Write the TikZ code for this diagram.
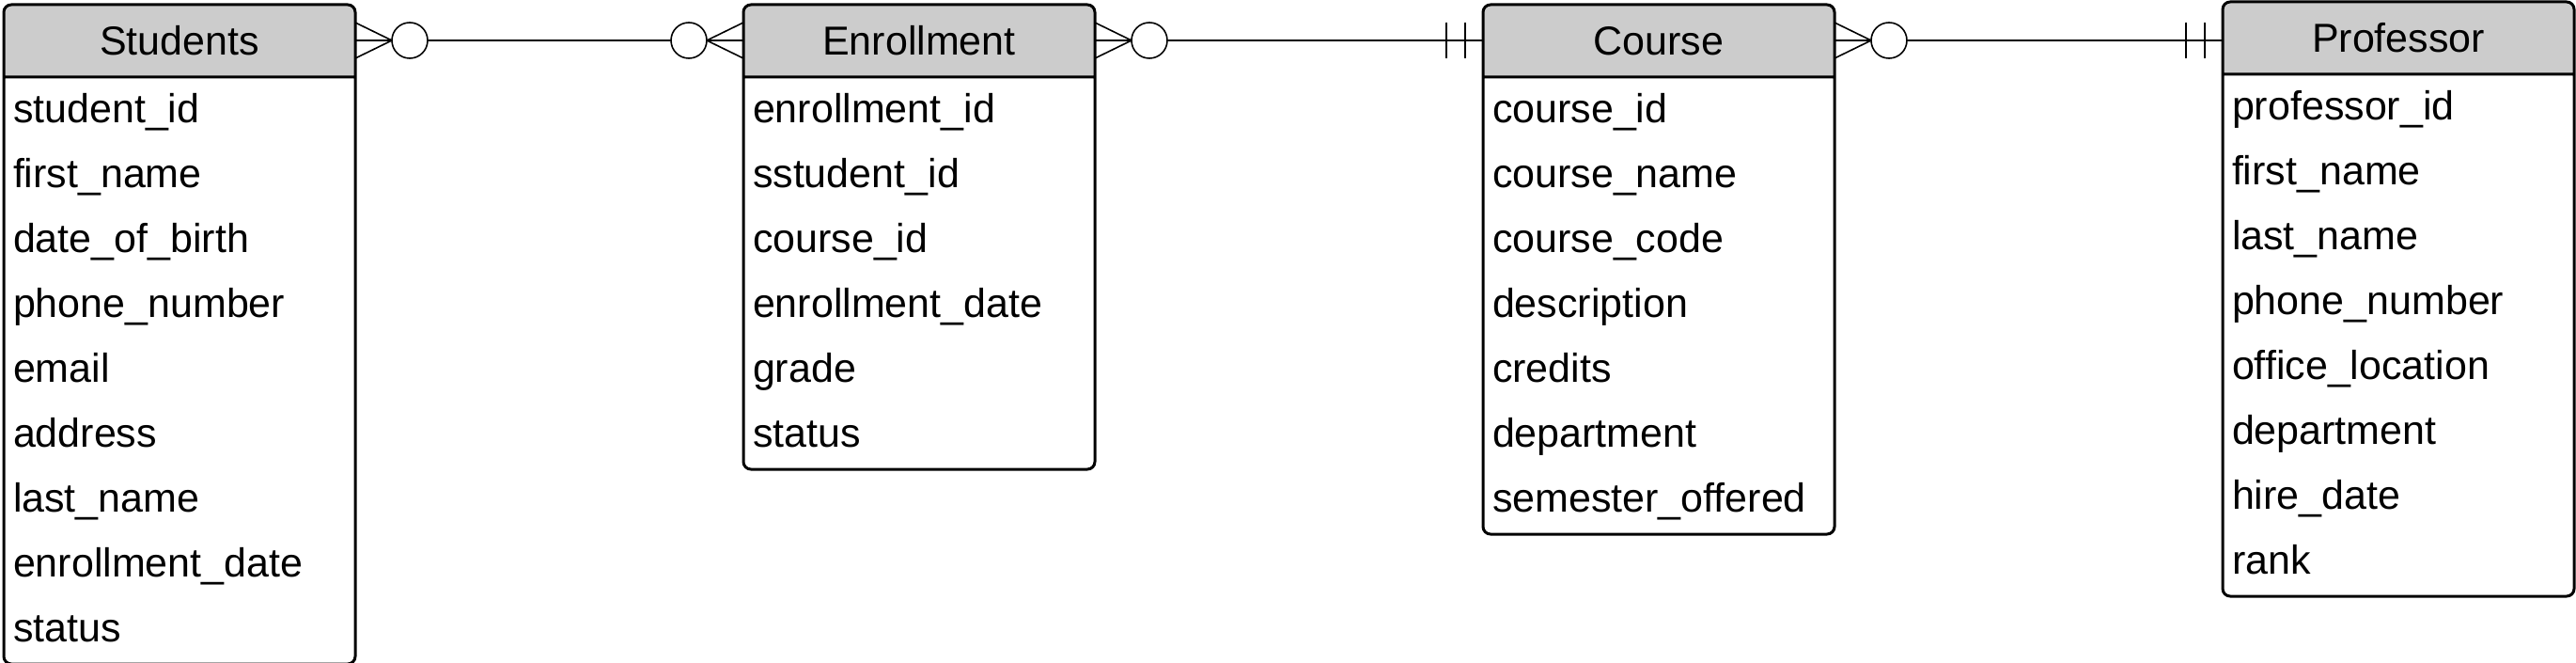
\documentclass[tikz,border=0pt]{standalone}
\usepackage{fontspec}
\setmainfont{Liberation Sans}
\usetikzlibrary{shapes.multipart, positioning}

\definecolor{headgray}{HTML}{CCCCCC}
\newcommand{\hstrut}{\rule[-11pt]{0pt}{37pt}}
\newcommand{\rstrut}{\rule[-11pt]{0pt}{34.5pt}}
\newcommand{\thead}[1]{\makebox[177pt]{\hstrut #1}}

\tikzstyle{etable} = [rectangle split, rectangle split parts=2, draw, line width=1.5pt, rounded corners=4pt, rectangle split part fill={headgray, white}, text width=177pt, inner xsep=5pt, inner ysep=0pt, outer sep=0pt, font=\fontsize{21.5}{34.5}\selectfont]
\tikzstyle{line} = [draw, line width=1pt]
\tikzset{
  zeromany/.pic={
    \draw [line width=0.8pt] (0,9.5pt) -- (19.5pt,0) -- (0,-9.5pt);
    \draw [line width=0.8pt, fill=white] (29pt,0) circle (9.5pt);
  },
  onlyone/.pic={
    \draw [line width=0.8pt] (9.5pt,9.5pt) -- (9.5pt,-9.5pt) (19.5pt,9.5pt) -- (19.5pt,-9.5pt);
  }
}

\begin{document}
\begin{tikzpicture}
    \useasboundingbox (0,0) rectangle (1370.5pt,-352.5pt);
    % Place nodes
    \node [etable, anchor=north west] (students) at (2pt,-2.5pt) {\thead{Students}
      \nodepart{two}\rstrut student\_id\\ \rstrut first\_name\\ \rstrut date\_of\_birth\\ \rstrut phone\_number\\ \rstrut email\\ \rstrut address\\ \rstrut last\_name\\ \rstrut enrollment\_date\\ \rstrut status};
    \node [etable, right=206.5pt of students.north east, anchor=north west] (enrollment) {\thead{Enrollment}
      \nodepart{two}\rstrut enrollment\_id\\ \rstrut sstudent\_id\\ \rstrut course\_id\\ \rstrut enrollment\_date\\ \rstrut grade\\ \rstrut status};
    \node [etable, right=206.5pt of enrollment.north east, anchor=north west] (course) {\thead{Course}
      \nodepart{two}\rstrut course\_id\\ \rstrut course\_name\\ \rstrut course\_code\\ \rstrut description\\ \rstrut credits\\ \rstrut department\\ \rstrut semester\_offered};
    \node [etable, right=206.5pt of course.north east, anchor=north west, yshift=1.5pt] (professor) {\thead{Professor}
      \nodepart{two}\rstrut professor\_id\\ \rstrut first\_name\\ \rstrut last\_name\\ \rstrut phone\_number\\ \rstrut office\_location\\ \rstrut department\\ \rstrut hire\_date\\ \rstrut rank};
    % Header mid points
    \coordinate (studentsR) at ([yshift=19.5pt]students.text split east);
    \coordinate (enrollmentL) at ([yshift=19.5pt]enrollment.text split west);
    \coordinate (enrollmentR) at ([yshift=19.5pt]enrollment.text split east);
    \coordinate (courseL) at ([yshift=19.5pt]course.text split west);
    \coordinate (courseR) at ([yshift=19.5pt]course.text split east);
    \coordinate (professorL) at (courseR -| professor.west);
    % Draw edges
    \path [line] (studentsR) -- (enrollmentL);
    \path [line] (enrollmentR) -- (courseL);
    \path [line] (courseR) -- (professorL);
    \pic at (studentsR) {zeromany};
    \pic [xscale=-1] at (enrollmentL) {zeromany};
    \pic at (enrollmentR) {zeromany};
    \pic [xscale=-1] at (courseL) {onlyone};
    \pic at (courseR) {zeromany};
    \pic [xscale=-1] at (professorL) {onlyone};
\end{tikzpicture}
\end{document}
